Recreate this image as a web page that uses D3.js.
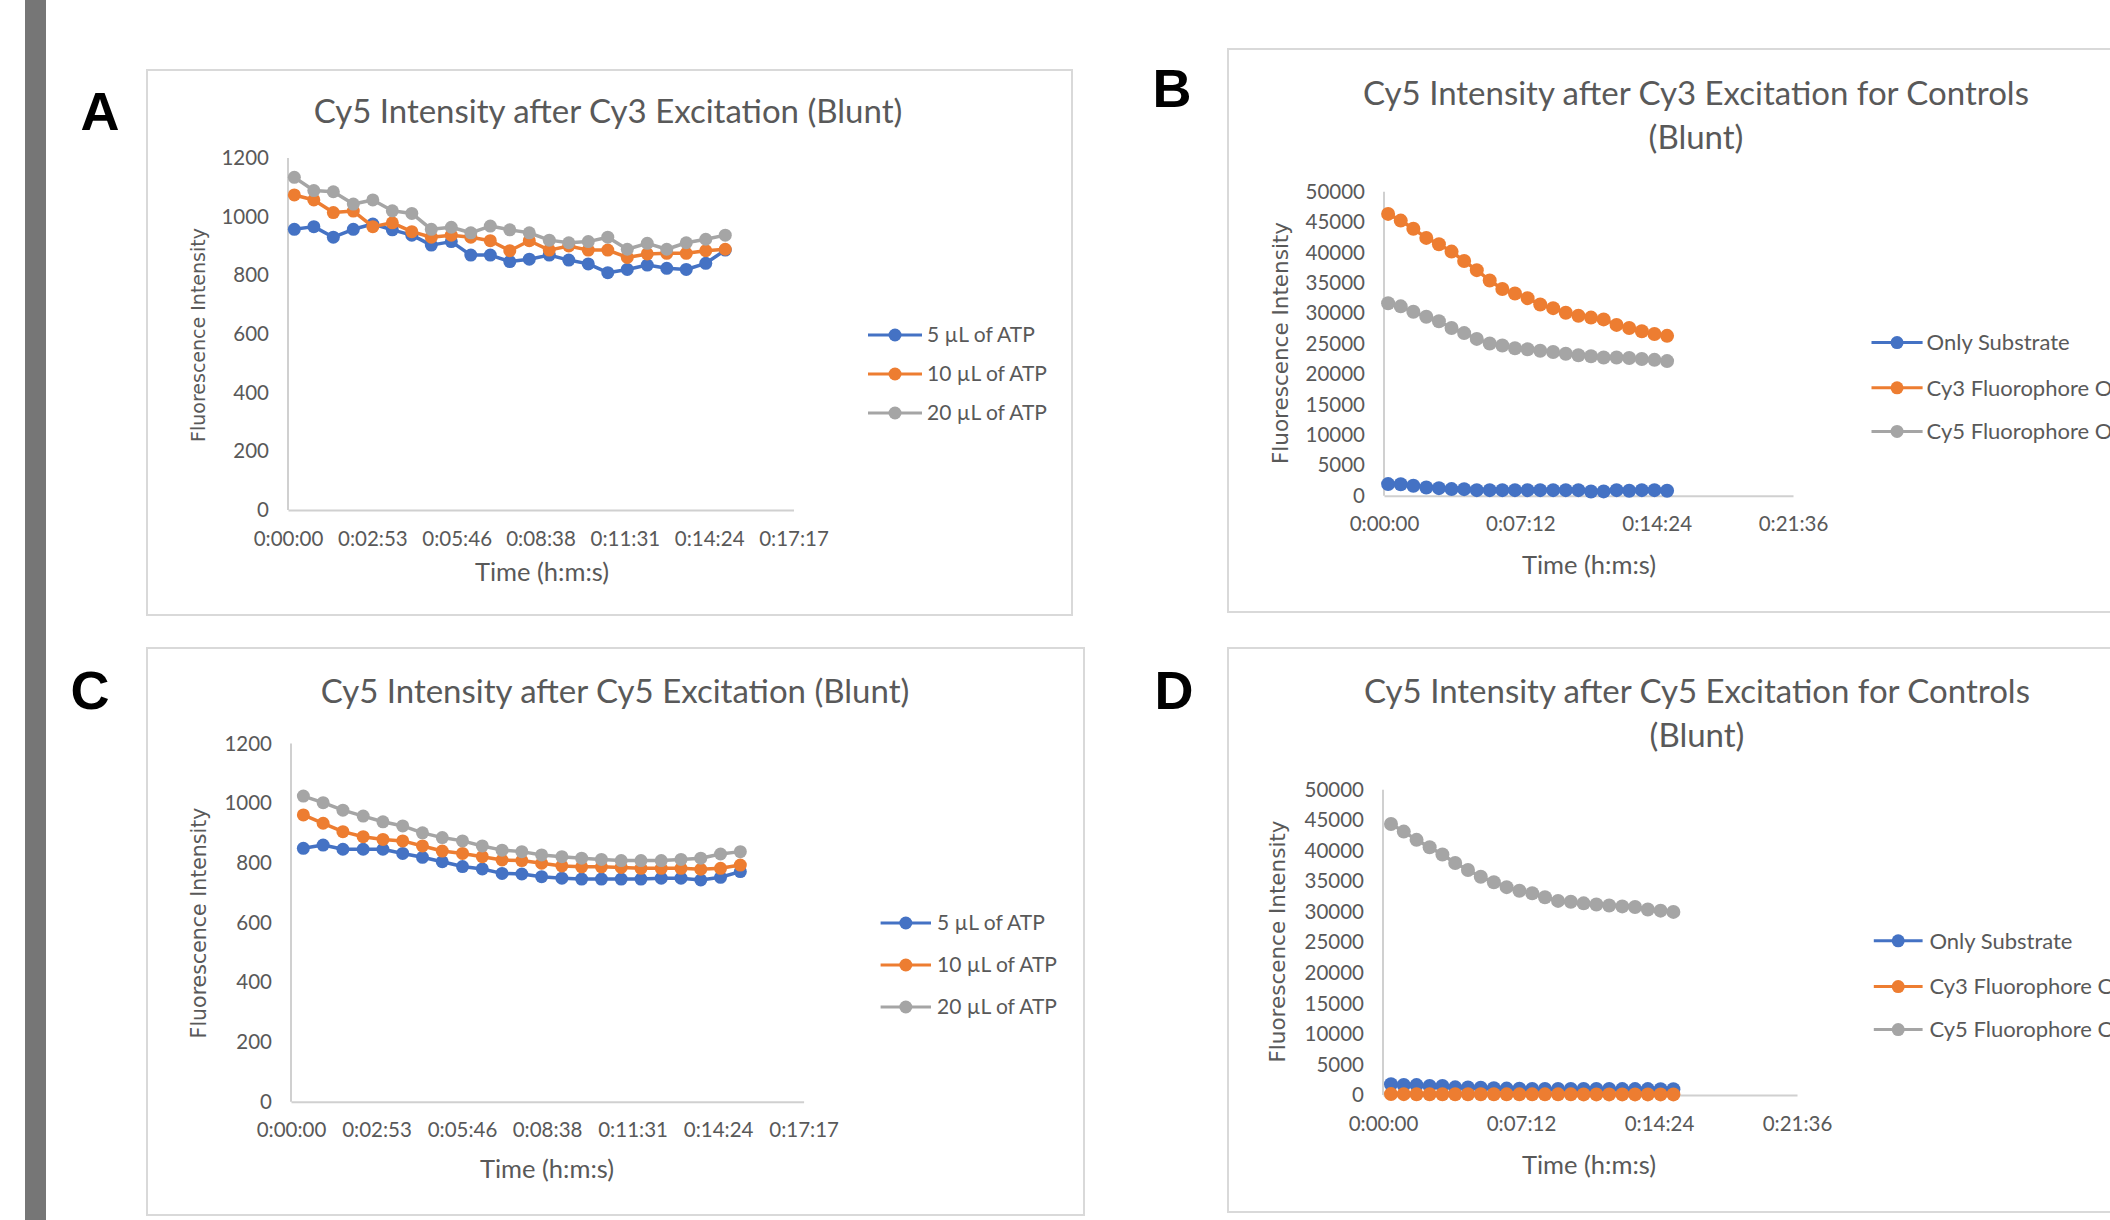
<!DOCTYPE html>
<html>
<head>
<meta charset="utf-8">
<script src="https://cdn.jsdelivr.net/npm/d3@7"></script>
<style>
  body { margin: 0; background: #fff; }
  svg { display: block; }
</style>
</head>
<body>
<svg width="2110" height="1220"></svg>
<script>
// time of each reading, in seconds
const timesAB = [13, 53, 93, 134, 174, 214, 254, 294, 335, 375, 415, 455, 495, 536, 576, 616, 656, 696, 737, 777, 817, 857, 897];
const timesCD = [25, 65, 105, 146, 186, 226, 266, 306, 347, 387, 427, 467, 507, 548, 588, 628, 668, 708, 749, 789, 829, 869, 909];

const namesATP = ['5 µL of ATP', '10 µL of ATP', '20 µL of ATP'];
const namesControls = ['Only Substrate', 'Cy3 Fluorophore Only', 'Cy5 Fluorophore Only'];

const ticksShort = ['0:00:00', '0:02:53', '0:05:46', '0:08:38', '0:11:31', '0:14:24', '0:17:17'];
const ticksLong = ['0:00:00', '0:07:12', '0:14:24', '0:21:36'];
const yTicksATP = [0, 200, 400, 600, 800, 1000, 1200];
const yTicksControls = [0, 5000, 10000, 15000, 20000, 25000, 30000, 35000, 40000, 45000, 50000];

// A: Cy5 after Cy3 excitation
const blueA = [957, 966, 930, 957, 975, 955, 937, 903, 915, 869, 869, 847, 855, 869, 852, 839, 809, 820, 835, 824, 820, 841, 886];
const orangeA = [1074, 1057, 1014, 1019, 966, 979, 949, 930, 937, 930, 918, 884, 918, 886, 900, 886, 886, 861, 873, 875, 875, 884, 889];
const grayA = [1134, 1089, 1085, 1043, 1057, 1020, 1011, 957, 964, 945, 968, 955, 945, 920, 911, 915, 930, 889, 909, 889, 911, 923, 937];

// B: controls, Cy3 excitation
const blueB = [1920, 1900, 1650, 1370, 1260, 1100, 1090, 930, 930, 930, 930, 930, 930, 930, 930, 930, 710, 720, 930, 820, 930, 930, 820];
const orangeB = [46350, 45250, 43900, 42400, 41350, 40150, 38600, 37100, 35400, 34000, 33250, 32500, 31450, 30850, 30100, 29600, 29300, 29000, 28100, 27600, 27050, 26600, 26300];
const grayB = [31650, 31150, 30250, 29450, 28700, 27600, 26750, 25800, 25050, 24700, 24250, 24100, 23850, 23650, 23350, 23100, 22950, 22750, 22750, 22650, 22500, 22350, 22150];

// C: Cy5 after Cy5 excitation
const blueC = [849, 860, 846, 846, 846, 832, 819, 804, 788, 780, 765, 763, 754, 749, 746, 746, 746, 746, 749, 749, 743, 752, 771];
const orangeC = [961, 933, 905, 888, 879, 874, 857, 840, 832, 821, 810, 808, 799, 790, 787, 787, 785, 782, 782, 782, 779, 782, 793];
const grayC = [1024, 1002, 977, 957, 938, 924, 901, 885, 874, 857, 843, 838, 827, 821, 816, 812, 808, 808, 808, 812, 816, 830, 838];

// D: controls, Cy5 excitation
const blueD = [1750, 1650, 1620, 1480, 1470, 1250, 1220, 1200, 1120, 1050, 1020, 1000, 1000, 990, 990, 980, 980, 980, 970, 970, 970, 960, 960];
const orangeD = [150, 140, 135, 130, 125, 120, 120, 115, 115, 110, 110, 110, 105, 105, 105, 100, 100, 100, 100, 100, 100, 100, 100];
const grayD = [44400, 43150, 41800, 40600, 39400, 38000, 36850, 35750, 34850, 34050, 33450, 33050, 32400, 31800, 31650, 31400, 31200, 31050, 30900, 30800, 30400, 30200, 30000];

const colors = ['#4472c4', '#ed7d31', '#a5a5a5'];
const textColor = '#595959';
const font = 'Lato, "Open Sans", sans-serif';

const toSec = (s) => {
  const [h, m, sec] = s.split(':').map(Number);
  return h * 3600 + m * 60 + sec;
};

const panels = [
  {
    letter: 'A', letterPos: [100, 130],
    frame: [147, 70, 1072, 615],
    plot: { left: 288, right: 793.5, top: 158, bottom: 510 },
    title: ['Cy5 Intensity after Cy3 Excitation (Blunt)'], titleX: 608, titleY: [111],
    xticks: ticksShort, yticks: yTicksATP,
    times: timesAB, series: [blueA, orangeA, grayA], names: namesATP,
    yTitle: [198, 335, 19], xTitle: [542, 572],
    legend: { x0: 868, x1: 922, tx: 927, ys: [335, 374, 413], size: 21 },
    r: 6.5
  },
  {
    letter: 'B', letterPos: [1172, 107],
    frame: [1228, 49, 2140, 612],
    plot: { left: 1384, right: 1793, top: 191.7, bottom: 495.8 },
    title: ['Cy5 Intensity after Cy3 Excitation for Controls', '(Blunt)'], titleX: 1696, titleY: [93, 137],
    xticks: ticksLong, yticks: yTicksControls,
    times: timesAB, series: [blueB, orangeB, grayB], names: namesControls,
    yTitle: [1280, 343, 21.5], xTitle: [1589, 565],
    legend: { x0: 1871.5, x1: 1922.6, tx: 1926.6, ys: [342.6, 387.8, 431.4], size: 22 },
    r: 7
  },
  {
    letter: 'C', letterPos: [90, 709],
    frame: [147, 648, 1084, 1215],
    plot: { left: 291, right: 803.6, top: 743.6, bottom: 1101.7 },
    title: ['Cy5 Intensity after Cy5 Excitation (Blunt)'], titleX: 615, titleY: [691],
    xticks: ticksShort, yticks: yTicksATP,
    times: timesCD, series: [blueC, orangeC, grayC], names: namesATP,
    yTitle: [199, 923, 20.5], xTitle: [547, 1169],
    legend: { x0: 880.6, x1: 931, tx: 937, ys: [923, 965, 1007], size: 21 },
    r: 6.5
  },
  {
    letter: 'D', letterPos: [1174, 709],
    frame: [1228, 648, 2140, 1212],
    plot: { left: 1383, right: 1797, top: 789.8, bottom: 1095 },
    title: ['Cy5 Intensity after Cy5 Excitation for Controls', '(Blunt)'], titleX: 1697, titleY: [691, 735.5],
    xticks: ticksLong, yticks: yTicksControls,
    times: timesCD, series: [blueD, orangeD, grayD], names: namesControls,
    yTitle: [1277, 941.5, 21.5], xTitle: [1589, 1164.6],
    legend: { x0: 1873.8, x1: 1922.6, tx: 1929.4, ys: [940.8, 986.6, 1029.6], size: 22 },
    r: 7
  }
];

const svg = d3.select('svg');

// grey strip on the left edge
svg.append('rect')
  .attr('x', 25).attr('y', 0)
  .attr('width', 21).attr('height', 1220)
  .attr('fill', '#767676');

panels.forEach(drawPanel);

function drawPanel(p) {
  const g = svg.append('g');
  const [fx0, fy0, fx1, fy1] = p.frame;

  g.append('rect')
    .attr('x', fx0).attr('y', fy0)
    .attr('width', fx1 - fx0).attr('height', fy1 - fy0)
    .attr('fill', '#fff')
    .attr('stroke', '#d9d9d9')
    .attr('stroke-width', 2);

  // panel letter
  svg.append('text')
    .attr('x', p.letterPos[0]).attr('y', p.letterPos[1])
    .attr('text-anchor', 'middle')
    .attr('font-family', '"Liberation Sans", Arial, sans-serif')
    .attr('font-weight', 'bold')
    .attr('font-size', 54)
    .attr('fill', '#000')
    .text(p.letter);

  // title
  p.title.forEach((line, i) => {
    g.append('text')
      .attr('x', p.titleX).attr('y', p.titleY[i])
      .attr('dy', '0.35em')
      .attr('text-anchor', 'middle')
      .attr('font-family', font)
      .attr('font-size', 33)
      .attr('fill', textColor)
      .text(line);
  });

  const xMax = toSec(p.xticks[p.xticks.length - 1]);
  const x = d3.scaleLinear().domain([0, xMax]).range([p.plot.left, p.plot.right]);
  const y = d3.scaleLinear()
    .domain([0, p.yticks[p.yticks.length - 1]])
    .range([p.plot.bottom, p.plot.top]);

  // axes
  const yAxis = g.append('g')
    .attr('transform', `translate(${p.plot.left},0)`)
    .call(d3.axisLeft(y).tickValues(p.yticks).tickSize(0).tickPadding(19).tickFormat(d3.format('d')));
  yAxis.select('.domain').remove();
  yAxis.selectAll('text')
    .attr('font-family', font)
    .attr('font-size', 20.5)
    .attr('fill', textColor);

  g.append('line')
    .attr('x1', p.plot.left).attr('x2', p.plot.left)
    .attr('y1', p.plot.top).attr('y2', p.plot.bottom)
    .attr('stroke', '#d0d0d0').attr('stroke-width', 2);

  const xAxis = g.append('g')
    .attr('transform', `translate(0,${p.plot.bottom})`)
    .call(d3.axisBottom(x).tickValues(p.xticks.map(toSec)).tickSize(0)
      .tickFormat((d, i) => p.xticks[i]));
  xAxis.select('.domain')
    .attr('stroke', '#d0d0d0').attr('stroke-width', 2);
  xAxis.selectAll('text')
    .attr('y', 28.5)
    .attr('dy', '0.35em')
    .attr('font-family', font)
    .attr('font-size', 20.5)
    .attr('fill', textColor);

  // axis titles
  g.append('text')
    .attr('transform', `translate(${p.yTitle[0]},${p.yTitle[1]}) rotate(-90)`)
    .attr('dy', '0.35em')
    .attr('text-anchor', 'middle')
    .attr('font-family', '"DejaVu Sans", sans-serif')
    .attr('font-size', p.yTitle[2])
    .attr('fill', textColor)
    .text('Fluorescence Intensity');

  g.append('text')
    .attr('x', p.xTitle[0]).attr('y', p.xTitle[1])
    .attr('dy', '0.35em')
    .attr('text-anchor', 'middle')
    .attr('font-family', font)
    .attr('font-size', 25.5)
    .attr('fill', textColor)
    .text('Time (h:m:s)');

  // series, later ones drawn on top
  const line = d3.line()
    .x((d, i) => x(p.times[i]))
    .y((d) => y(d));

  p.series.forEach((values, s) => {
    const sg = g.append('g');
    sg.append('path')
      .datum(values)
      .attr('d', line)
      .attr('fill', 'none')
      .attr('stroke', colors[s])
      .attr('stroke-width', 3.5)
      .attr('stroke-linejoin', 'round');
    sg.selectAll('circle')
      .data(values)
      .enter()
      .append('circle')
      .attr('cx', (d, i) => x(p.times[i]))
      .attr('cy', (d) => y(d))
      .attr('r', p.r)
      .attr('fill', colors[s]);
  });

  // legend
  const lg = g.append('g');
  p.names.forEach((name, i) => {
    const ly = p.legend.ys[i];
    lg.append('line')
      .attr('x1', p.legend.x0).attr('x2', p.legend.x1)
      .attr('y1', ly).attr('y2', ly)
      .attr('stroke', colors[i]).attr('stroke-width', 3);
    lg.append('circle')
      .attr('cx', (p.legend.x0 + p.legend.x1) / 2).attr('cy', ly)
      .attr('r', 6.5)
      .attr('fill', colors[i]);
    lg.append('text')
      .attr('x', p.legend.tx).attr('y', ly)
      .attr('dy', '0.35em')
      .attr('font-family', font)
      .attr('font-size', p.legend.size)
      .attr('fill', textColor)
      .text(name);
  });
}
</script>
</body>
</html>
